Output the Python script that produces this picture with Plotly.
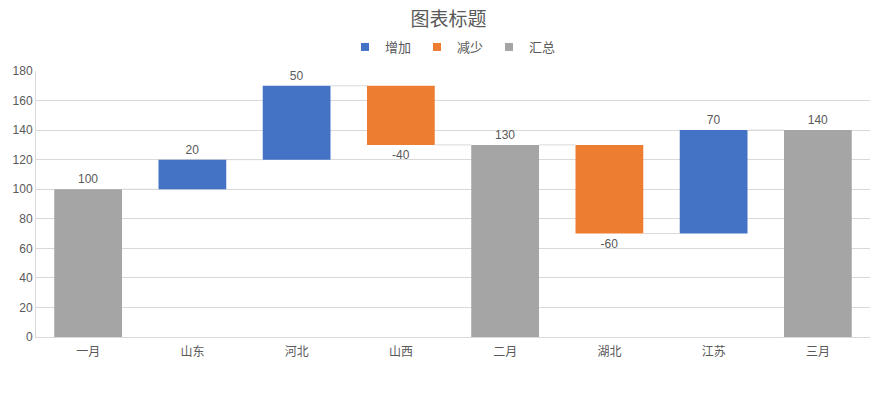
import plotly.graph_objects as go

categories = ['一月', '山东', '河北', '山西', '二月', '湖北', '江苏', '三月']
values = [100, 20, 50, -40, 130, -60, 70, 140]
is_total = [True, False, False, False, True, False, False, True]
y_ticks = [0, 20, 40, 60, 80, 100, 120, 140, 160, 180]

BLUE = '#4472C4'
ORANGE = '#ED7D31'
GRAY = '#A5A5A5'
TXT = '#595959'
GRID = '#D9D9D9'
BW = 0.65
FONT = 'Liberation Sans, Noto Sans CJK SC, sans-serif'

# page has an 8px body margin: figure sized to fit the window
W, H = 881, 390

# running totals -> bases and ends
bases, ends = [], []
running = 0
for v, t in zip(values, is_total):
    if t:
        bases.append(0)
        running = v
        ends.append(v)
    else:
        bases.append(running)
        running += v
        ends.append(running)

idx = list(range(len(categories)))
groups = [
    ('增加', BLUE, [i for i in idx if not is_total[i] and values[i] >= 0]),
    ('减少', ORANGE, [i for i in idx if not is_total[i] and values[i] < 0]),
    ('汇总', GRAY, [i for i in idx if is_total[i]]),
]

fig = go.Figure()

# connectors
cx, cy = [], []
for i in idx[:-1]:
    cx += [i + BW / 2, i + 1 - BW / 2, None]
    cy += [ends[i], ends[i], None]
fig.add_trace(go.Scatter(x=cx, y=cy, mode='lines', line=dict(color=GRID, width=1),
                         showlegend=False, hoverinfo='skip'))

for name, color, ids in groups:
    fig.add_trace(go.Bar(
        name=name,
        x=ids,
        y=[values[i] for i in ids],
        base=[bases[i] for i in ids],
        width=BW,
        marker=dict(color=color, line=dict(width=0)),
        text=[str(values[i]) for i in ids],
        textposition='outside',
        textfont=dict(size=12, color=TXT),
        cliponaxis=False,
        showlegend=False,
    ))
    # compact square legend marker
    fig.add_trace(go.Scatter(
        name=name, x=[None], y=[None], mode='markers',
        marker=dict(symbol='square', size=8, color=color),
        showlegend=True,
    ))

fig.update_layout(
    width=W, height=H,
    margin=dict(l=28, r=19, t=63, b=61, autoexpand=False),
    paper_bgcolor='white', plot_bgcolor='white',
    font=dict(family=FONT, color=TXT, size=12),
    barmode='overlay',
    title=dict(text='图表标题', x=0.5, xanchor='center', y=1 - 11 / H, yanchor='middle',
               font=dict(size=19, color=TXT)),
    legend=dict(orientation='h', x=0.5, xanchor='center', yref='container',
                y=1 - 39 / H, yanchor='middle',
                font=dict(size=13, color=TXT), traceorder='normal', itemwidth=30,
                entrywidth=27, entrywidthmode='pixels'),
    xaxis=dict(range=[-0.5, len(categories) - 0.5], tickvals=idx, ticktext=categories,
               showgrid=False, zeroline=False, showline=True, linecolor=GRID,
               ticks='', tickfont=dict(size=12, color=TXT), automargin=False,
               ticklabelstandoff=4),
    yaxis=dict(range=[0, 180], tickvals=y_ticks, showgrid=True, gridcolor=GRID,
               zeroline=False, showline=True, linecolor=GRID, ticks='',
               tickfont=dict(size=12, color=TXT), automargin=False),
)

fig.write_html('out.html')
